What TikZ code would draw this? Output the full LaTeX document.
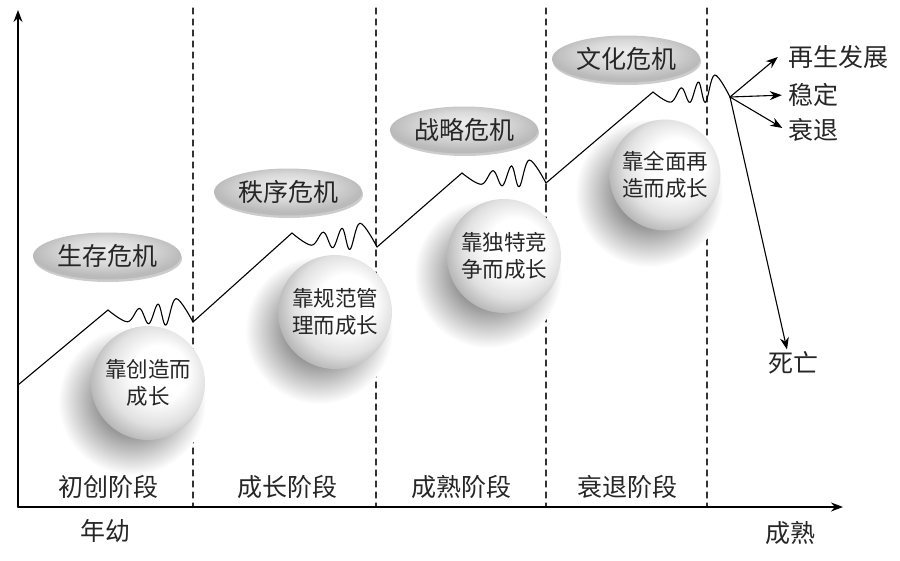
\documentclass[tikz,border=0pt]{standalone}
\usepackage{fontspec}
\newfontfamily\cjk{Noto Sans CJK SC}
\usetikzlibrary{arrows.meta,calc,shapes.geometric,shadows}

\pgfdeclareradialshading{pearl}{\pgfpoint{7bp}{6bp}}{color(0bp)=(white); color(12bp)=(white); color(22bp)=(black!12); color(32bp)=(black!36); color(50bp)=(black!36)}
\pgfdeclareradialshading{softshadow}{\pgfpointorigin}{color(0bp)=(black!55); color(10bp)=(black!45); color(25bp)=(white); color(50bp)=(white)}
\pgfdeclareradialshading{crisisgray}{\pgfpoint{0bp}{8bp}}{color(0bp)=(black!7); color(14bp)=(black!15); color(25bp)=(black!27); color(50bp)=(black!27)}

\tikzset{
  label text/.style={font=\cjk\fontsize{25}{30}\selectfont, text=black!85, inner sep=2pt},
  crisis/.style={ellipse, label text, shading=crisisgray, minimum width=148pt, minimum height=47pt,
    drop shadow={shadow xshift=1pt, shadow yshift=-2.5pt, fill=black!40, opacity=.5}},
  ball/.style={circle, shading=pearl, minimum size=114pt, align=center, text=black!85,
    font=\cjk\fontsize{21.5}{27}\selectfont},
  stage line/.style={line width=1.2pt, dash pattern=on 6pt off 5pt, black!80},
  growth/.style={line width=1.1pt}
}

\newcommand\crisiswave[2]{%
  \draw[growth] plot[smooth,tension=.6] coordinates {(#1) ($(#1)!.23!(#2)+(0,9)$)
    ($(#1)!.37!(#2)+(0,-6)$) ($(#1)!.48!(#2)+(0,8)$) ($(#1)!.59!(#2)+(0,-13)$)
    ($(#1)!.68!(#2)+(0,7)$) ($(#1)!.8!(#2)+(0,-21)$) (#2)};}

\begin{document}
\begin{tikzpicture}[line cap=round,line join=round,>={Stealth[length=12pt,width=9pt]},x=1pt,y=-1pt]
    \useasboundingbox (0,0) rectangle (900,560);
    \coordinate (origin) at (18,507);
    \coordinate (ytop) at (18,10);
    \coordinate (xend) at (843,507);

    \foreach \x in {193,376,546,707}
    \draw[stage line] (\x,8) -- (\x,506);

    \foreach \bx/\by in {148/383,335/312,504/256,665/175}
    \shade[shading=softshadow] (\bx-16,\by+18) circle (74);

    \node[ball] (b1) at (148,383) {靠创造而\\成长};
    \node[ball] (b2) at (335,312) {靠规范管\\理而成长};
    \node[ball] (b3) at (504,256) {靠独特竞\\争而成长};
    \node[ball, minimum size=111pt] (b4) at (665,175) {靠全面再\\造而成长};

    \node[crisis] (c1) at (107,256) {生存危机};
    \node[crisis] (c2) at (288,192) {秩序危机};
    \node[crisis] (c3) at (464,130) {战略危机};
    \node[crisis] (c4) at (626,59) {文化危机};

    \coordinate (start) at (18,385);
    \coordinate (peak1) at (108,310);
    \coordinate (valley1) at (193,322);
    \coordinate (peak2) at (292,233);
    \coordinate (valley2) at (377,247);
    \coordinate (peak3) at (462,173);
    \coordinate (valley3) at (546,183);
    \coordinate (peak4) at (653,92);
    \coordinate (fork) at (730,97);

    \draw[growth] (start) -- (peak1);
    \crisiswave{peak1}{valley1}
    \draw[growth] (valley1) -- (peak2);
    \crisiswave{peak2}{valley2}
    \draw[growth] (valley2) -- (peak3);
    \crisiswave{peak3}{valley3}
    \draw[growth] (valley3) -- (peak4);
    \crisiswave{peak4}{fork}

    \draw[->,line width=1.4pt] (origin) -- (ytop);
    \draw[->,line width=1.4pt] (origin) -- (xend);

    \node[label text] (s1) at (108,487) {初创阶段};
    \node[label text] (s2) at (287,487) {成长阶段};
    \node[label text] (s3) at (461,487) {成熟阶段};
    \node[label text] (s4) at (627,487) {衰退阶段};
    \node[label text] (young) at (105,531) {年幼};
    \node[label text] (mature) at (790,533) {成熟};

    \node[label text] (grow) at (838,57) {再生发展};
    \node[label text] (stable) at (813,95) {稳定};
    \node[label text] (decline) at (813,130) {衰退};
    \node[label text] (death) at (793,363) {死亡};

    \draw[->,growth] (fork) -- ([xshift=-8pt]grow.west);
    \draw[->,growth,shorten >=4pt] (fork) -- (stable.west);
    \draw[->,growth,shorten >=4pt] (fork) -- (decline.west);
    \draw[->,growth] (fork) -- ([xshift=-6pt]death.north);
\end{tikzpicture}
\end{document}
